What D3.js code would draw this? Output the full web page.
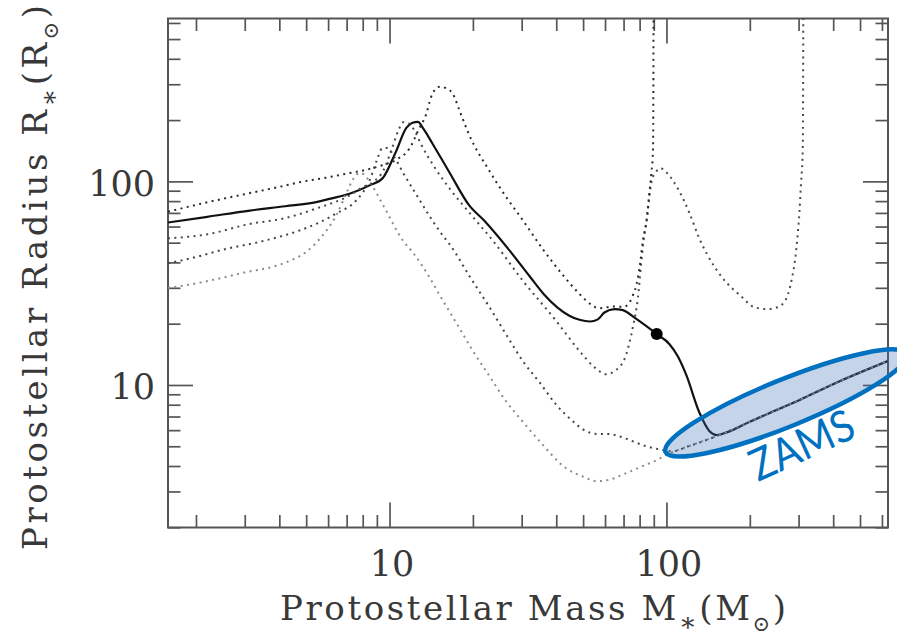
<!DOCTYPE html>
<html>
<head>
<meta charset="utf-8">
<script src="https://cdn.jsdelivr.net/npm/d3@7/dist/d3.min.js"></script>
<style>
html,body{margin:0;padding:0;background:#fff;}
svg{display:block;}
</style>
</head>
<body>
<svg id="chart" width="897" height="638"></svg>
<script>
// ---------------- data ----------------
const xDomain = [Math.pow(10, 0.2), Math.pow(10, 2.8)];   // protostellar mass (Msun)
const yDomain = [Math.pow(10, 0.3), Math.pow(10, 2.8)];   // protostellar radius (Rsun)
const xTickLabels = [10, 100];
const yTickLabels = [10, 100];

// solid track
const solidMass   = [1.585, 2.2, 3.13, 4.2, 5.44, 6.07, 7.17, 8.47, 9.46, 10.5, 11.5, 12.1, 12.65, 13.3, 14.3, 16.5, 19.4, 22, 27.1, 32.1, 36, 44.6, 48.5, 53, 56.5, 59.7, 64.9, 69.6, 77.8, 92.2, 102.4, 110, 117.6, 131.6, 143, 152, 165, 200, 242, 300, 420, 630];
const solidRadius = [62.8, 67, 71.9, 75.5, 79.1, 82, 87, 95.6, 104, 138, 183, 194, 196, 180, 153, 110, 76.2, 64, 45.8, 34.1, 28, 21.9, 20.9, 20.5, 21.0, 22.7, 23.6, 23.3, 21.1, 17.8, 15.9, 13.8, 11.3, 7.3, 5.93, 5.68, 5.85, 6.6, 7.4, 8.4, 10.4, 13.1];

// dotted tracks
const aMass   = [1.585, 2.2, 3.13, 4.0, 4.73, 6.07, 7.2, 8.24, 9.4, 10.6, 11.8, 12.8, 13.6, 14.1, 14.6, 15.2, 15.9, 16.9, 18, 19.4, 22.9, 26.4, 30.3, 35.7, 42, 48.5, 51.3, 57.3, 64, 70, 73.3, 76, 77.9, 80.3, 82, 84.4, 86.7, 88.2, 89.4, 89.7, 89.8];
const aRadius = [71, 79, 87.6, 94, 99, 105, 110, 114, 120, 128, 145, 182, 216, 258, 282, 292, 288, 270, 218, 169, 113, 83.6, 64.4, 46.6, 35, 28, 26, 23.8, 24.3, 24.2, 25.3, 28, 31, 39.3, 50, 62, 87, 110, 140, 300, 700];

const bMass   = [1.585, 2.2, 3.13, 4.2, 5.44, 7.17, 8.0, 8.8, 9.5, 10.2, 10.8, 11.2, 11.7, 12.3, 13, 14.5, 16.5, 19.8, 23.6, 30.3, 39.9, 48.5, 55, 60.6, 66, 71.4, 75.6, 78.9, 81, 83.2, 85, 86.8, 88.6, 91.6, 94.5, 97, 99.9, 111, 121, 131, 140, 159, 188, 205, 229, 250, 262, 275, 284, 292, 297, 302, 306, 310.5, 311.5, 312];
const bRadius = [52.5, 55, 61.8, 66, 73.6, 85.3, 93.7, 100, 113, 145, 180, 195, 193, 178, 152, 118, 92, 68, 51.2, 32.5, 20.7, 14.7, 12.2, 11.3, 11.9, 14, 19.2, 26.9, 39.3, 55, 65, 85, 102, 111, 116, 115, 111, 90, 70, 53, 44, 33.7, 26.9, 24.3, 23.6, 24.0, 24.9, 28, 33.5, 42, 53, 70, 97, 142, 300, 700];

const cMass   = [1.585, 2.0, 2.57, 3.4, 4.73, 5.6, 6.42, 7.58, 8.47, 9.0, 9.4, 9.8, 10.4, 11.2, 12.5, 13.9, 15.6, 16.5, 19.5, 23, 26.5, 30.3, 35, 39.9, 45, 51.3, 56, 62.4, 66, 71.4, 78, 84.4, 93, 105, 120, 155, 200, 242, 300, 420, 630];
const cRadius = [39.6, 42.5, 46.6, 50.5, 57.4, 63, 69.6, 80.6, 101, 127, 145, 146, 132, 110, 86, 68, 54, 49, 34, 24, 17.5, 13.1, 10.2, 8.03, 6.8, 5.93, 5.75, 5.75, 5.65, 5.45, 5.2, 5.0, 4.85, 4.72, 5.0, 5.67, 6.6, 7.4, 8.4, 10.4, 13.1];

const dMass   = [1.585, 1.65, 2.37, 3.0, 3.9, 4.5, 5.0, 5.4, 5.9, 6.42, 7.0, 7.4, 7.8, 8.1, 8.5, 9.5, 11.2, 12.1, 13.9, 15.2, 17.5, 20, 23, 26.3, 30, 34.8, 43.4, 50, 55.8, 62, 69.6, 77, 84.4, 93, 102, 120, 155, 200, 242, 300, 420, 630];
const dRadius = [30, 30.2, 33.1, 35.7, 38.5, 41.5, 45, 49.5, 57, 68, 88, 103, 110, 108, 99, 76, 51, 45, 34, 27.5, 20, 14.7, 11, 8.34, 6.7, 5.3, 3.9, 3.55, 3.37, 3.42, 3.63, 3.85, 4.06, 4.3, 4.6, 5.0, 5.67, 6.6, 7.4, 8.4, 10.4, 13.1];

// marked point on the solid track
const markMass = [92.2];
const markRadius = [17.8];

// ZAMS annotation (ellipse tips and label anchor, in data units)
const zamsTipMass   = [99.2, 736];
const zamsTipRadius = [4.69, 14.2];
const zamsLabel = "ZAMS";
const zamsLabelMass = [214.2];
const zamsLabelRadius = [3.34];

const xTitleParts = [["Protostellar Mass M", 0], ["\u2217", 1], ["(M", 0], ["\u2299", 2], [")", 0]];
const yTitleParts = [["Protostellar Radius R", 0], ["\u2217", 1], ["(R", 0], ["\u2299", 2], [")", 0]];

// ---------------- drawing ----------------
const svg = d3.select("#chart");
const L = 168, R = 888, T = 18.5, B = 527.5;
const x = d3.scaleLog().domain(xDomain).range([L, R]);
const y = d3.scaleLog().domain(yDomain).range([B, T]);

const serif = "'DejaVu Serif', 'Liberation Serif', serif";
const frameColor = "#555";
const textColor = "#383838";

svg.append("defs").append("clipPath").attr("id", "plotclip")
  .append("rect").attr("x", L).attr("y", T).attr("width", R - L).attr("height", B - T);

function minorTicks(domain) {
  const v = [];
  for (let e = -1; e < 4; e++) for (let k = 2; k < 10; k++) {
    const t = k * Math.pow(10, e);
    if (t > domain[0] && t < domain[1]) v.push(t);
  }
  return v;
}
const xMinor = minorTicks(xDomain), yMinor = minorTicks(yDomain);
const majLen = 25, minLen = 12.5;

function addAxis(gen, tx, ty) {
  const a = svg.append("g").attr("transform", `translate(${tx},${ty})`).call(gen);
  a.select(".domain").remove();
  a.selectAll(".tick line").attr("stroke", frameColor).attr("stroke-width", 1.7);
  return a;
}
// bottom
addAxis(d3.axisBottom(x).tickValues(xMinor).tickSize(-minLen).tickFormat(""), 0, B);
const bx = addAxis(d3.axisBottom(x).tickValues(xTickLabels).tickSize(-majLen).tickFormat(d => String(d)), 0, B);
bx.selectAll(".tick text").attr("y", 48).attr("dy", 0).attr("x", 2)
  .attr("font-family", serif).attr("font-size", 35).attr("fill", textColor);
// top
addAxis(d3.axisTop(x).tickValues(xMinor).tickSize(-minLen).tickFormat(""), 0, T);
addAxis(d3.axisTop(x).tickValues(xTickLabels).tickSize(-majLen).tickFormat(""), 0, T);
// left
addAxis(d3.axisLeft(y).tickValues(yMinor).tickSize(-minLen).tickFormat(""), L, 0);
const ly = addAxis(d3.axisLeft(y).tickValues(yTickLabels).tickSize(-majLen).tickFormat(d => String(d)), L, 0);
ly.selectAll(".tick text").attr("x", -13).attr("dy", "0.4em")
  .attr("font-family", serif).attr("font-size", 35).attr("fill", textColor);
// right
addAxis(d3.axisRight(y).tickValues(yMinor).tickSize(-minLen).tickFormat(""), R, 0);
addAxis(d3.axisRight(y).tickValues(yTickLabels).tickSize(-majLen).tickFormat(""), R, 0);

// frame
svg.append("rect").attr("x", L).attr("y", T).attr("width", R - L).attr("height", B - T)
  .attr("fill", "none").attr("stroke", frameColor).attr("stroke-width", 2);

// curves
const zip = (m, r) => m.map((v, i) => [v, r[i]]);
const line = d3.line().x(d => x(d[0])).y(d => y(d[1])).curve(d3.curveMonotoneX);
const curves = svg.append("g").attr("clip-path", "url(#plotclip)");

const dotted = [
  { m: dMass, r: dRadius, color: "#8c8c8c" },
  { m: cMass, r: cRadius, color: "#444" },
  { m: bMass, r: bRadius, color: "#4a4a4a" },
  { m: aMass, r: aRadius, color: "#2a2a2a" }
];
curves.append("path").datum(zip(solidMass, solidRadius))
  .attr("d", line).attr("fill", "none").attr("stroke", "#111").attr("stroke-width", 2.2);
dotted.forEach(c => {
  curves.append("path").datum(zip(c.m, c.r))
    .attr("d", line).attr("fill", "none").attr("stroke", c.color)
    .attr("stroke-width", 2).attr("stroke-dasharray", "2,4.4");
});
curves.selectAll("circle.mark").data(zip(markMass, markRadius)).enter().append("circle")
  .attr("class", "mark").attr("cx", d => x(d[0])).attr("cy", d => y(d[1])).attr("r", 6).attr("fill", "#000");

// ZAMS ellipse
const p1 = [x(zamsTipMass[0]), y(zamsTipRadius[0])];
const p2 = [x(zamsTipMass[1]), y(zamsTipRadius[1])];
const cx = (p1[0] + p2[0]) / 2, cy = (p1[1] + p2[1]) / 2;
const rx = Math.hypot(p2[0] - p1[0], p2[1] - p1[1]) / 2;
const ang = Math.atan2(p2[1] - p1[1], p2[0] - p1[0]) * 180 / Math.PI;
svg.append("ellipse").attr("cx", 0).attr("cy", 0).attr("rx", rx).attr("ry", 23.5)
  .attr("transform", `translate(${cx},${cy}) rotate(${ang})`)
  .attr("fill", "#3F72B5").attr("fill-opacity", 0.3)
  .attr("stroke", "#0070C0").attr("stroke-width", 4.5);

svg.append("text")
  .attr("transform", `translate(${x(zamsLabelMass[0])},${y(zamsLabelRadius[0])}) rotate(-24.5)`)
  .attr("font-family", "Lato, 'Open Sans', sans-serif").attr("font-size", 44)
  .attr("fill", "#0070C0").attr("textLength", 110).attr("lengthAdjust", "spacingAndGlyphs")
  .text(zamsLabel);

// axis titles
function title(parts, transform, target) {
  const t = svg.append("text").attr("transform", transform)
    .attr("font-family", serif).attr("font-size", 34).attr("fill", textColor);
  let shift = 0;
  parts.forEach(([s, sub]) => {
    const sp = t.append("tspan").text(s);
    const want = sub ? 11 : 0;
    sp.attr("dy", want - shift);
    shift = want;
    if (sub === 1) sp.attr("font-size", 26);
    if (sub === 2) sp.attr("font-size", 21);
  });
  const node = t.node();
  const n = node.getNumberOfChars();
  const len = node.getComputedTextLength();
  t.attr("letter-spacing", (target - len) / (n - 1));
  return t;
}
title(xTitleParts, "translate(280,620)", 506);
title(yTitleParts, "translate(47,550) rotate(-90)", 545);
</script>
</body>
</html>
